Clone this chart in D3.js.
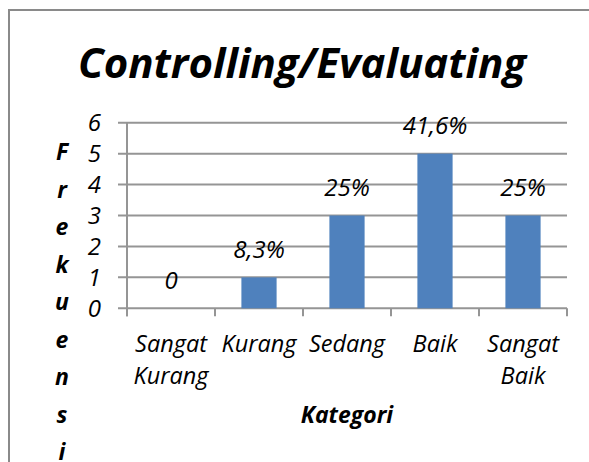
<!DOCTYPE html>
<html>
<head>
<meta charset="utf-8">
<script src="https://cdn.jsdelivr.net/npm/d3@7"></script>
<style>
  body { margin: 0; background: #fff; }
  text { font-family: "Open Sans", "Noto Sans", sans-serif; font-style: italic; fill: #000; }
</style>
</head>
<body>
<div id="chart"></div>
<script>
//////////////////////////////////////////////////////////////////////////////
// Data

var categories = [["Sangat", "Kurang"], ["Kurang"], ["Sedang"], ["Baik"], ["Sangat", "Baik"]];
var values = [0, 1, 3, 5, 3];
var valueLabels = ["0", "8,3%", "25%", "41,6%", "25%"];
var yTicks = [0, 1, 2, 3, 4, 5, 6];
var titleText = "Controlling/Evaluating";
var xTitle = "Kategori";
var yTitle = "Frekuensi";

//////////////////////////////////////////////////////////////////////////////
// Layout

var width = 589, height = 462;
var plotLeft = 127, plotRight = 567, plotTop = 122.7, plotBottom = 308.3;

var svg = d3.select("#chart")
    .append("svg")
    .attr("width", width)
    .attr("height", height);

// outer frame
svg.append("rect")
    .attr("x", 9).attr("y", 10)
    .attr("width", 600).attr("height", 480)
    .attr("fill", "none")
    .attr("stroke", "#8a8a8a")
    .attr("stroke-width", 2);

var xScale = d3.scaleBand()
    .domain(d3.range(categories.length))
    .range([plotLeft, plotRight])
    .paddingInner(0.6)
    .paddingOuter(0.3);

var yScale = d3.scaleLinear().domain([0, 6]).range([plotBottom, plotTop]);

var step = xScale.step();
function center(i) { return xScale(i) + xScale.bandwidth() / 2; }

// gridlines + y ticks
svg.append("g")
    .selectAll("line")
    .data(yTicks)
    .enter()
    .append("line")
    .attr("x1", plotLeft - 9)
    .attr("x2", plotRight)
    .attr("y1", function(d) { return yScale(d); })
    .attr("y2", function(d) { return yScale(d); })
    .attr("stroke", "#959595")
    .attr("stroke-width", 2);

// y axis line
svg.append("line")
    .attr("x1", plotLeft).attr("x2", plotLeft)
    .attr("y1", plotTop).attr("y2", plotBottom + 8)
    .attr("stroke", "#959595")
    .attr("stroke-width", 2);

// x ticks at category boundaries
svg.append("g")
    .selectAll("line")
    .data(d3.range(categories.length + 1))
    .enter()
    .append("line")
    .attr("x1", function(d) { return plotLeft + d * step; })
    .attr("x2", function(d) { return plotLeft + d * step; })
    .attr("y1", plotBottom)
    .attr("y2", plotBottom + 8)
    .attr("stroke", "#959595")
    .attr("stroke-width", 2);

// bars
svg.append("g")
    .selectAll("rect")
    .data(values)
    .enter()
    .append("rect")
    .attr("x", function(d, i) { return xScale(i); })
    .attr("y", function(d) { return yScale(d); })
    .attr("width", xScale.bandwidth())
    .attr("height", function(d) { return plotBottom - yScale(d); })
    .attr("fill", "#4f81bd");

// value labels
svg.append("g")
    .selectAll("text")
    .data(valueLabels)
    .enter()
    .append("text")
    .attr("x", function(d, i) { return center(i); })
    .attr("y", function(d, i) { return yScale(values[i]) - 19.5; })
    .attr("text-anchor", "middle")
    .attr("font-size", 24)
    .text(function(d) { return d; });

// y tick labels
svg.append("g")
    .selectAll("text")
    .data(yTicks)
    .enter()
    .append("text")
    .attr("x", 101)
    .attr("y", function(d) { return yScale(d) + 8.5; })
    .attr("text-anchor", "end")
    .attr("font-size", 24)
    .text(function(d) { return d; });

// category labels
svg.append("g")
    .selectAll("text")
    .data(categories)
    .enter()
    .append("text")
    .attr("text-anchor", "middle")
    .attr("font-size", 23.5)
    .each(function(lines, i) {
        d3.select(this)
            .selectAll("tspan")
            .data(lines)
            .enter()
            .append("tspan")
            .attr("x", center(i))
            .attr("y", function(d, j) { return 352 + j * 32; })
            .text(function(d) { return d; });
    });

// title
svg.append("text")
    .attr("x", 302)
    .attr("y", 78)
    .attr("text-anchor", "middle")
    .attr("font-size", 42)
    .attr("font-weight", "bold")
    .text(titleText);

// x axis title
svg.append("text")
    .attr("x", 347)
    .attr("y", 423)
    .attr("text-anchor", "middle")
    .attr("font-size", 23)
    .attr("font-weight", "bold")
    .text(xTitle);

// y axis title, stacked letters
svg.append("text")
    .attr("text-anchor", "middle")
    .attr("font-size", 23)
    .attr("font-weight", "bold")
    .selectAll("tspan")
    .data(yTitle.split(""))
    .enter()
    .append("tspan")
    .attr("x", 62)
    .attr("y", function(d, i) { return 160 + i * 37.5; })
    .text(function(d) { return d; });
</script>
</body>
</html>
